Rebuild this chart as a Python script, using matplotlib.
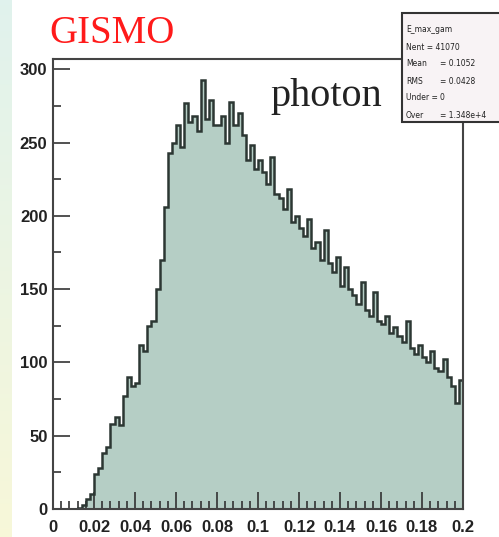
import numpy as np
import matplotlib.pyplot as plt
from matplotlib.patches import Rectangle
from matplotlib.ticker import MultipleLocator

# histogram E_max_gam, 100 bins from 0 to 0.2
bin_lo = 0.0
bin_hi = 0.2
counts = [
    0, 0, 0, 0, 0, 0, 1, 3, 7, 10,
    24, 28, 38, 42, 58, 63, 57, 77, 90, 84,
    86, 112, 108, 125, 128, 150, 170, 206, 243, 250,
    262, 247, 277, 264, 268, 258, 293, 266, 279, 262,
    262, 268, 250, 278, 262, 270, 255, 238, 248, 232,
    238, 230, 222, 240, 215, 212, 205, 218, 196, 200,
    192, 186, 198, 178, 182, 170, 190, 168, 162, 172,
    152, 165, 150, 146, 140, 155, 136, 132, 148, 128,
    126, 132, 120, 124, 118, 114, 128, 110, 106, 112,
    104, 100, 108, 96, 94, 102, 90, 84, 72, 88,
]
xticks = [0, 0.02, 0.04, 0.06, 0.08, 0.1, 0.12, 0.14, 0.16, 0.18, 0.2]
xtick_labels = ["0", "0.02", "0.04", "0.06", "0.08", "0.1",
                "0.12", "0.14", "0.16", "0.18", "0.2"]
yticks = [0, 50, 100, 150, 200, 250, 300]
stats_lines = [
    ("E_max_gam", ""),
    ("Nent = 41070", ""),
    ("Mean", "= 0.1052"),
    ("RMS", "= 0.0428"),
    ("Under =", "0"),
    ("Over", "= 1.348e+4"),
]

counts = np.array(counts, dtype=float)
edges = np.linspace(bin_lo, bin_hi, len(counts) + 1)

fig = plt.figure(figsize=(4.99, 5.37), dpi=100)

# pale gradient strip on the left edge
strip = fig.add_axes([0, 0, 12 / 499, 1])
grad = np.linspace(0, 1, 256).reshape(-1, 1)
top_col = np.array([0.88, 0.95, 0.93])
bot_col = np.array([0.97, 0.97, 0.85])
img = top_col * (1 - grad[..., None]) + bot_col * grad[..., None]
strip.imshow(img, aspect="auto", extent=[0, 1, 0, 1])
strip.axis("off")

ax = fig.add_axes([53 / 499, 28 / 537, 410 / 499, 450 / 537])
fill_col = "#b5cec5"
dark = "#2c3733"
ax.stairs(counts, edges, fill=True, color=fill_col, zorder=1)
ax.stairs(counts, edges, color=dark, linewidth=1.8, zorder=2)

ax.set_xlim(bin_lo, bin_hi)
ax.set_ylim(0, 307)
ax.set_xticks(xticks)
ax.set_xticklabels(xtick_labels)
ax.set_yticks(yticks)
ax.xaxis.set_minor_locator(MultipleLocator(0.004))
ax.yaxis.set_minor_locator(MultipleLocator(25))
ax.tick_params(which="both", direction="in", color="#333333", width=1.2,
               labelsize=12, pad=4)
ax.tick_params(which="major", length=12)
ax.tick_params(which="minor", length=6)
ax.tick_params(axis="x", pad=8)
for lab in ax.get_xticklabels() + ax.get_yticklabels():
    lab.set_fontweight("bold")
    lab.set_family("Liberation Sans")
    lab.set_color("#222222")
for sp in ax.spines.values():
    sp.set_color("#444444")
    sp.set_linewidth(1.5)

ax.text(0.53, 0.895, "photon", transform=ax.transAxes, fontsize=29,
        family="Liberation Serif", color="#222222", ha="left", va="baseline")
fig.text(112 / 499, 1 - 43 / 537, "GISMO", fontsize=28, family="Liberation Serif",
         color="#ff1a1a", ha="center", va="baseline")

# stats box, cut off by the right edge
box = Rectangle((402 / 499, 1 - 122 / 537), 0.3, 109 / 537, transform=fig.transFigure,
                facecolor="#f8f3f5", edgecolor="#333333", linewidth=1.5, zorder=5)
fig.patches.append(box)
for i, (left, right) in enumerate(stats_lines):
    y = 1 - (30 + 17 * i) / 537
    fig.text(406 / 499, y, left, fontsize=5.5, color="#222222", va="center", zorder=6)
    if right:
        fig.text(440 / 499, y, right, fontsize=5.5, color="#222222", va="center", zorder=6)

fig.savefig("out.png", dpi=100)
